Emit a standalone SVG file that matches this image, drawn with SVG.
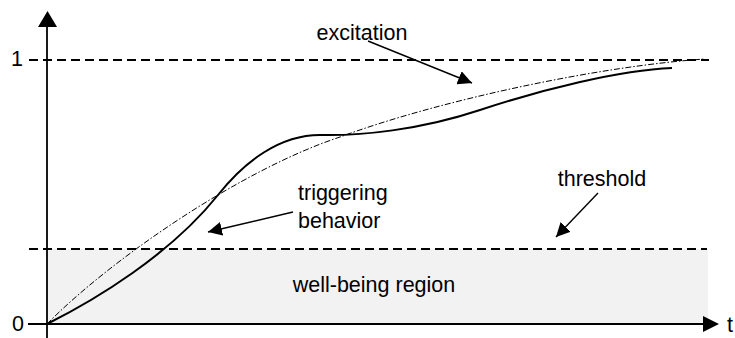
<svg xmlns="http://www.w3.org/2000/svg" width="735" height="338" viewBox="0 0 735 338">
  <style>
    text { font-family: "Liberation Sans", Arial, sans-serif; font-size: 21.5px; fill: #000; }
    .axis { stroke: #000; stroke-width: 1.8; fill: none; }
    .level { stroke: #000; stroke-width: 2; stroke-dasharray: 9 5; fill: none; }
    .pointer { stroke: #000; stroke-width: 1.4; fill: none; marker-end: url(#head); }
  </style>
  <defs>
    <marker id="head" viewBox="0 0 10 10" refX="10" refY="5" markerWidth="14" markerHeight="14" markerUnits="userSpaceOnUse" orient="auto">
      <path d="M0,0 L10,5 L0,10 Z" fill="#000"/>
    </marker>
  </defs>

  <!-- well-being region band -->
  <g id="region">
    <rect x="47" y="249" width="661" height="75" fill="#f2f2f2"/>
    <text x="374" y="292" text-anchor="middle">well-being region</text>
  </g>

  <!-- reference levels -->
  <g id="levels">
    <line class="level" x1="29" y1="60" x2="709" y2="60"/>
    <line class="level" x1="29" y1="249" x2="707" y2="249"/>
  </g>

  <!-- axes -->
  <g id="axes">
    <line class="axis" x1="47" y1="338" x2="47" y2="26"/>
    <path d="M38,27 L47.5,11 L57,27 Z" fill="#000"/>
    <line class="axis" x1="28" y1="324" x2="704" y2="324"/>
    <path d="M703,316 L719,324 L703,332 Z" fill="#000"/>
    <text x="23" y="66" text-anchor="end">1</text>
    <text x="24" y="331" text-anchor="end">0</text>
    <text x="727" y="332">t</text>
  </g>

  <!-- excitation curve -->
  <g id="excitation-curve">
    <path d="M47,324 C110,260 240,170 340,137 C440,100 600,66 705,59" fill="none" stroke="#000" stroke-width="1" stroke-dasharray="6 2 1.5 2"/>
  </g>

  <!-- triggering behavior curve -->
  <g id="behavior-curve">
    <path d="M47,324 C95,300 170,255 218,195 C245,161 280,135 320,135 C360,136 420,130 480,110 C540,90 620,70 672,68" fill="none" stroke="#000" stroke-width="2"/>
  </g>

  <!-- labels -->
  <g id="label-excitation">
    <text x="362" y="40" text-anchor="middle">excitation</text>
  </g>
  <g id="label-triggering">
    <text x="298" y="200">triggering</text>
    <text x="298" y="228">behavior</text>
  </g>
  <g id="label-threshold">
    <text x="602" y="186" text-anchor="middle">threshold</text>
  </g>

  <!-- pointer connectors -->
  <g id="connectors">
    <line class="pointer" x1="368" y1="41" x2="472" y2="83"/>
    <line class="pointer" x1="293" y1="212" x2="208" y2="232"/>
    <line class="pointer" x1="598" y1="193" x2="556" y2="237"/>
  </g>
</svg>
